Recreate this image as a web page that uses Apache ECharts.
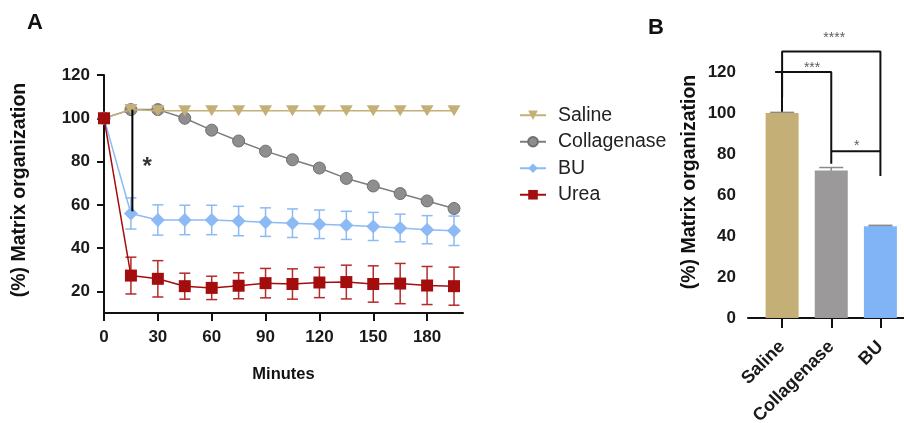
<!DOCTYPE html>
<html><head><meta charset="utf-8">
<script src="https://cdn.jsdelivr.net/npm/echarts@6/dist/echarts.min.js"></script>
<style>html,body{margin:0;padding:0;background:#fff}#c{width:904px;height:423px}</style>
</head><body><div id="c"></div>
<script>
// ---- Panel A data ----
const minutes = [0,15,30,45,60,75,90,105,120,135,150,165,180,195];
const saline = [100,104,103.5,103.5,103.5,103.5,103.5,103.5,103.5,103.5,103.5,103.5,103.5,103.5];
const collagenase = [100,104,104,100,94.5,89.5,84.8,80.8,77,72.2,68.7,65.2,61.8,58.3];
const bu = [100,56,53,53,53,52.5,52,51.5,51,50.5,50,49.3,48.5,48];
const buErr = [0,7.2,7,6.8,6.8,6.8,6.6,6.6,6.6,6.5,6.5,6.4,6.5,6.8];
const urea = [100,27.3,25.8,22.4,21.6,22.6,23.8,23.4,24.1,24.3,23.4,23.6,22.7,22.4];
const ureaErr = [0,8.5,8.4,6,5.4,6,6.8,7,7,7.8,8.4,9.3,8.8,8.8];
const timeTicks = [0,30,60,90,120,150,180];
const pctTicksA = [20,40,60,80,100,120];
// ---- Panel B data ----
const barCategories = ['Saline','Collagenase','BU'];
const barValues = [100,72,44.8];
const barErr = [0.3,1.4,0.4];
const pctTicksB = [0,20,40,60,80,100,120];

const FONT = 'Liberation Sans, Arial, Helvetica, sans-serif';
const C_SAL = '#c4b077', C_COL = '#8e8e8e', C_BU = '#8cbaf5', C_URE = '#a30d0d';
const pair = (xs, ys) => xs.map((x,i)=>[x, ys[i]]);
const triple = (xs, ys, es) => xs.map((x,i)=>[x, ys[i], es[i]]);

function errItem(capW, lw){
  return function(params, api){
    const x = api.value(0), y = api.value(1), e = api.value(2);
    if (!e) return null;
    const top = api.coord([x, y + e]), bot = api.coord([x, y - e]);
    const style = {stroke: api.visual('color'), lineWidth: lw};
    return {type:'group', children:[
      {type:'line', shape:{x1:top[0],y1:top[1],x2:bot[0],y2:bot[1]}, style},
      {type:'line', shape:{x1:top[0]-capW/2,y1:top[1],x2:top[0]+capW/2,y2:top[1]}, style},
      {type:'line', shape:{x1:bot[0]-capW/2,y1:bot[1],x2:bot[0]+capW/2,y2:bot[1]}, style}
    ]};
  };
}

const axisLbl = {color:'#1a1a1a', fontFamily:FONT, fontWeight:'bold', fontSize:17};
const axLine = {show:true, lineStyle:{color:'#111', width:2}};

const chart = echarts.init(document.getElementById('c'));
chart.setOption({
  animation:false,
  graphic:[
    {type:'text', left:27, top:12, style:{text:'A', font:'bold 22px '+FONT, fill:'#111'}},
    {type:'text', left:648, top:17, style:{text:'B', font:'bold 22px '+FONT, fill:'#111'}}
  ],
  legend:{
    data:['Saline','Collagenase','BU','Urea'],
    orient:'vertical', left:514, top:100,
    itemWidth:26, itemHeight:12, itemGap:6,
    textStyle:{fontFamily:FONT, fontSize:19.5, color:'#222', lineHeight:20.5, padding:[0,0,0,7]}
  },
  grid:[
    {left:104, top:75, width:359, bottom:110, outerBoundsMode:'none', containLabel:false},
    {left:748, top:72, right:0, bottom:105, outerBoundsMode:'none', containLabel:false}
  ],
  xAxis:[
    {gridIndex:0, type:'value', min:0, max:200,
     name:'Minutes', nameLocation:'middle', nameGap:53,
     nameTextStyle:{fontFamily:FONT, fontWeight:'bold', fontSize:16.5, color:'#111'},
     axisLine:{...axLine, onZero:false},
     axisTick:{show:true, length:8, lineStyle:{color:'#111', width:2}, customValues:timeTicks},
     axisLabel:{...axisLbl, margin:16, customValues:timeTicks},
     splitLine:{show:false}},
    {gridIndex:1, type:'value', min:-0.694, max:2.48,
     axisLine:{...axLine, onZero:false},
     axisTick:{show:true, length:10, lineStyle:{color:'#111', width:2}, customValues:[0,1,2]},
     axisLabel:{...axisLbl, fontSize:18, rotate:45, margin:26, customValues:[0,1,2],
       formatter:v=>barCategories[Math.round(v)]},
     splitLine:{show:false}}
  ],
  yAxis:[
    {gridIndex:0, type:'value', min:10, max:120,
     name:'(%) Matrix organization', nameLocation:'middle', nameGap:74,
     nameTextStyle:{fontFamily:FONT, fontWeight:'bold', fontSize:19.5, color:'#111', padding:[0,0,0,8]},
     axisLine:axLine,
     axisTick:{show:true, length:7, lineStyle:{color:'#111', width:2}, customValues:pctTicksA},
     axisLabel:{...axisLbl, margin:14, customValues:pctTicksA},
     splitLine:{show:false}},
    {gridIndex:1, type:'value', min:0, max:120,
     name:'(%) Matrix organization', nameLocation:'middle', nameGap:48,
     nameTextStyle:{fontFamily:FONT, fontWeight:'bold', fontSize:19.5, color:'#111', padding:[0,0,0,26]},
     axisLine:axLine,
     axisTick:{show:true, length:7, lineStyle:{color:'#111', width:2}, customValues:pctTicksB},
     axisLabel:{...axisLbl, margin:12, customValues:pctTicksB},
     splitLine:{show:false}}
  ],
  series:[
    {type:'custom', name:'buErr', xAxisIndex:0, yAxisIndex:0, z:1, itemStyle:{color:C_BU},
     renderItem:errItem(11,1.5), data:triple(minutes, bu, buErr)},
    {type:'custom', name:'ureaErr', xAxisIndex:0, yAxisIndex:0, z:1, itemStyle:{color:'#b52a2a'},
     renderItem:errItem(11,1.5), data:triple(minutes, urea, ureaErr)},
    {type:'line', name:'Collagenase', xAxisIndex:0, yAxisIndex:0, z:3,
     data:pair(minutes, collagenase), symbol:'circle', symbolSize:12,
     lineStyle:{color:'#7d7d7d', width:1.5},
     itemStyle:{color:C_COL, borderColor:'#6e6e6e', borderWidth:1}},
    {type:'line', name:'Saline', xAxisIndex:0, yAxisIndex:0, z:4,
     data:pair(minutes, saline), symbol:'triangle', symbolRotate:180, symbolSize:[13,11],
     lineStyle:{color:C_SAL, width:1.5}, itemStyle:{color:C_SAL}},
    {type:'line', name:'BU', xAxisIndex:0, yAxisIndex:0, z:3,
     data:pair(minutes, bu), symbol:'diamond', symbolSize:14,
     lineStyle:{color:C_BU, width:1.5}, itemStyle:{color:C_BU}},
    {type:'line', name:'Urea', xAxisIndex:0, yAxisIndex:0, z:5,
     data:pair(minutes, urea), symbol:'rect', symbolSize:12,
     lineStyle:{color:C_URE, width:1.5}, itemStyle:{color:C_URE}},
    // significance in A
    {type:'line', name:'sigA', xAxisIndex:0, yAxisIndex:0, z:6, symbol:'none', silent:true,
     data:[[15.8,104],[15.8,57]], lineStyle:{color:'#000', width:2}},
    {type:'scatter', name:'sigAtext', xAxisIndex:0, yAxisIndex:0, z:6, silent:true,
     symbolSize:1, itemStyle:{color:'rgba(0,0,0,0)'},
     label:{show:true, position:'inside', formatter:'*', fontSize:24, fontWeight:'bold', color:'#000', fontFamily:FONT},
     data:[[24,77.5]]},
    // Panel B
    {type:'custom', name:'barErr', xAxisIndex:1, yAxisIndex:1, z:1, itemStyle:{color:'#8a8a8a'},
     renderItem:errItem(24,1.5), data:triple([0,1,2], barValues, barErr)},
    {type:'bar', name:'bars', xAxisIndex:1, yAxisIndex:1, z:2, barWidth:33,
     data:barValues.map((v,i)=>({value:[i,v], itemStyle:{color:[C_SAL,'#9c999a','#80b4f7'][i]}}))},
    {type:'line', name:'br1', xAxisIndex:1, yAxisIndex:1, z:6, symbol:'none', silent:true, clip:false,
     data:[[0,107.8],[0,130],[2,130],[2,69.3]], lineStyle:{color:'#111', width:2}},
    {type:'line', name:'br2', xAxisIndex:1, yAxisIndex:1, z:6, symbol:'none', silent:true, clip:false,
     data:[[0,120],[1,120],[1,75.3]], lineStyle:{color:'#111', width:2}},
    {type:'line', name:'br3', xAxisIndex:1, yAxisIndex:1, z:6, symbol:'none', silent:true, clip:false,
     data:[[1,81.3],[2,81.3]], lineStyle:{color:'#111', width:2}},
    {type:'scatter', name:'sigBtext', xAxisIndex:1, yAxisIndex:1, z:6, silent:true, clip:false,
     symbolSize:1, itemStyle:{color:'rgba(0,0,0,0)'},
     label:{show:true, position:'inside', formatter:p=>p.value[2], fontSize:14, color:'#333', fontFamily:FONT},
     data:[[1.06,136.5,'****'],[0.61,122,'***'],[1.52,84,'*']]}
  ]
});
</script></body></html>
